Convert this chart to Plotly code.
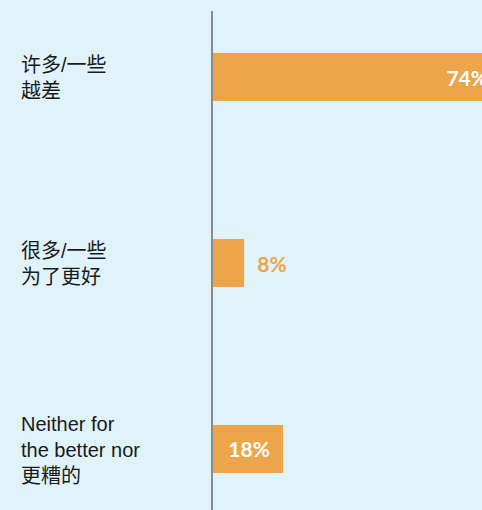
import plotly.graph_objects as go

categories = ["许多/一些<br>越差", "很多/一些<br>为了更好", "Neither for<br>the better nor<br>更糟的"]
values = [74, 8, 18]
label_positions = ["inside", "outside", "inside"]

BAR_COLOR = "#eda54c"
BG = "#e0f3fa"
NB = "\u00a0"

texts = []
for v, p in zip(values, label_positions):
    if p == "inside":
        texts.append(f"{v}%" + NB * 2)
    else:
        texts.append(NB * 2 + f"{v}%")

PCT_FONT = "Lato, Open Sans, sans-serif"

fig = go.Figure()
fig.add_trace(go.Bar(
    x=values,
    y=categories,
    orientation="h",
    marker=dict(color=BAR_COLOR, line=dict(width=0)),
    width=0.258,
    text=texts,
    textposition=label_positions,
    insidetextanchor="end",
    insidetextfont=dict(family=PCT_FONT, size=21, color="white", weight="bold"),
    outsidetextfont=dict(family=PCT_FONT, size=21, color=BAR_COLOR, weight="bold"),
    hoverinfo="skip",
))

for c in categories:
    fig.add_annotation(
        x=0, xref="paper", y=c, yref="y",
        text=c, showarrow=False,
        xanchor="left", yanchor="middle", align="left",
        xshift=-194, yshift=-1,
        font=dict(family="Liberation Sans, Arial, Noto Sans CJK SC, sans-serif", size=20, color="#1a1a1a"),
    )

fig.update_layout(
    width=509, height=510,
    margin=dict(l=213, r=0, t=11, b=0),
    paper_bgcolor=BG, plot_bgcolor=BG,
    showlegend=False,
    xaxis=dict(range=[0, 76], visible=False, fixedrange=True),
    yaxis=dict(
        categoryorder="array", categoryarray=categories,
        range=[2.328, -0.355],
        showticklabels=False, ticks="",
        showgrid=False, zeroline=False,
        showline=True, linecolor="#8a8a8a", linewidth=2,
        fixedrange=True,
    ),
    uniformtext=dict(mode=False),
)

fig.write_html(
    "out.html",
    config={"displayModeBar": False},
    post_script="document.body.style.margin='0';document.body.style.overflow='hidden';document.documentElement.style.overflow='hidden';",
)
